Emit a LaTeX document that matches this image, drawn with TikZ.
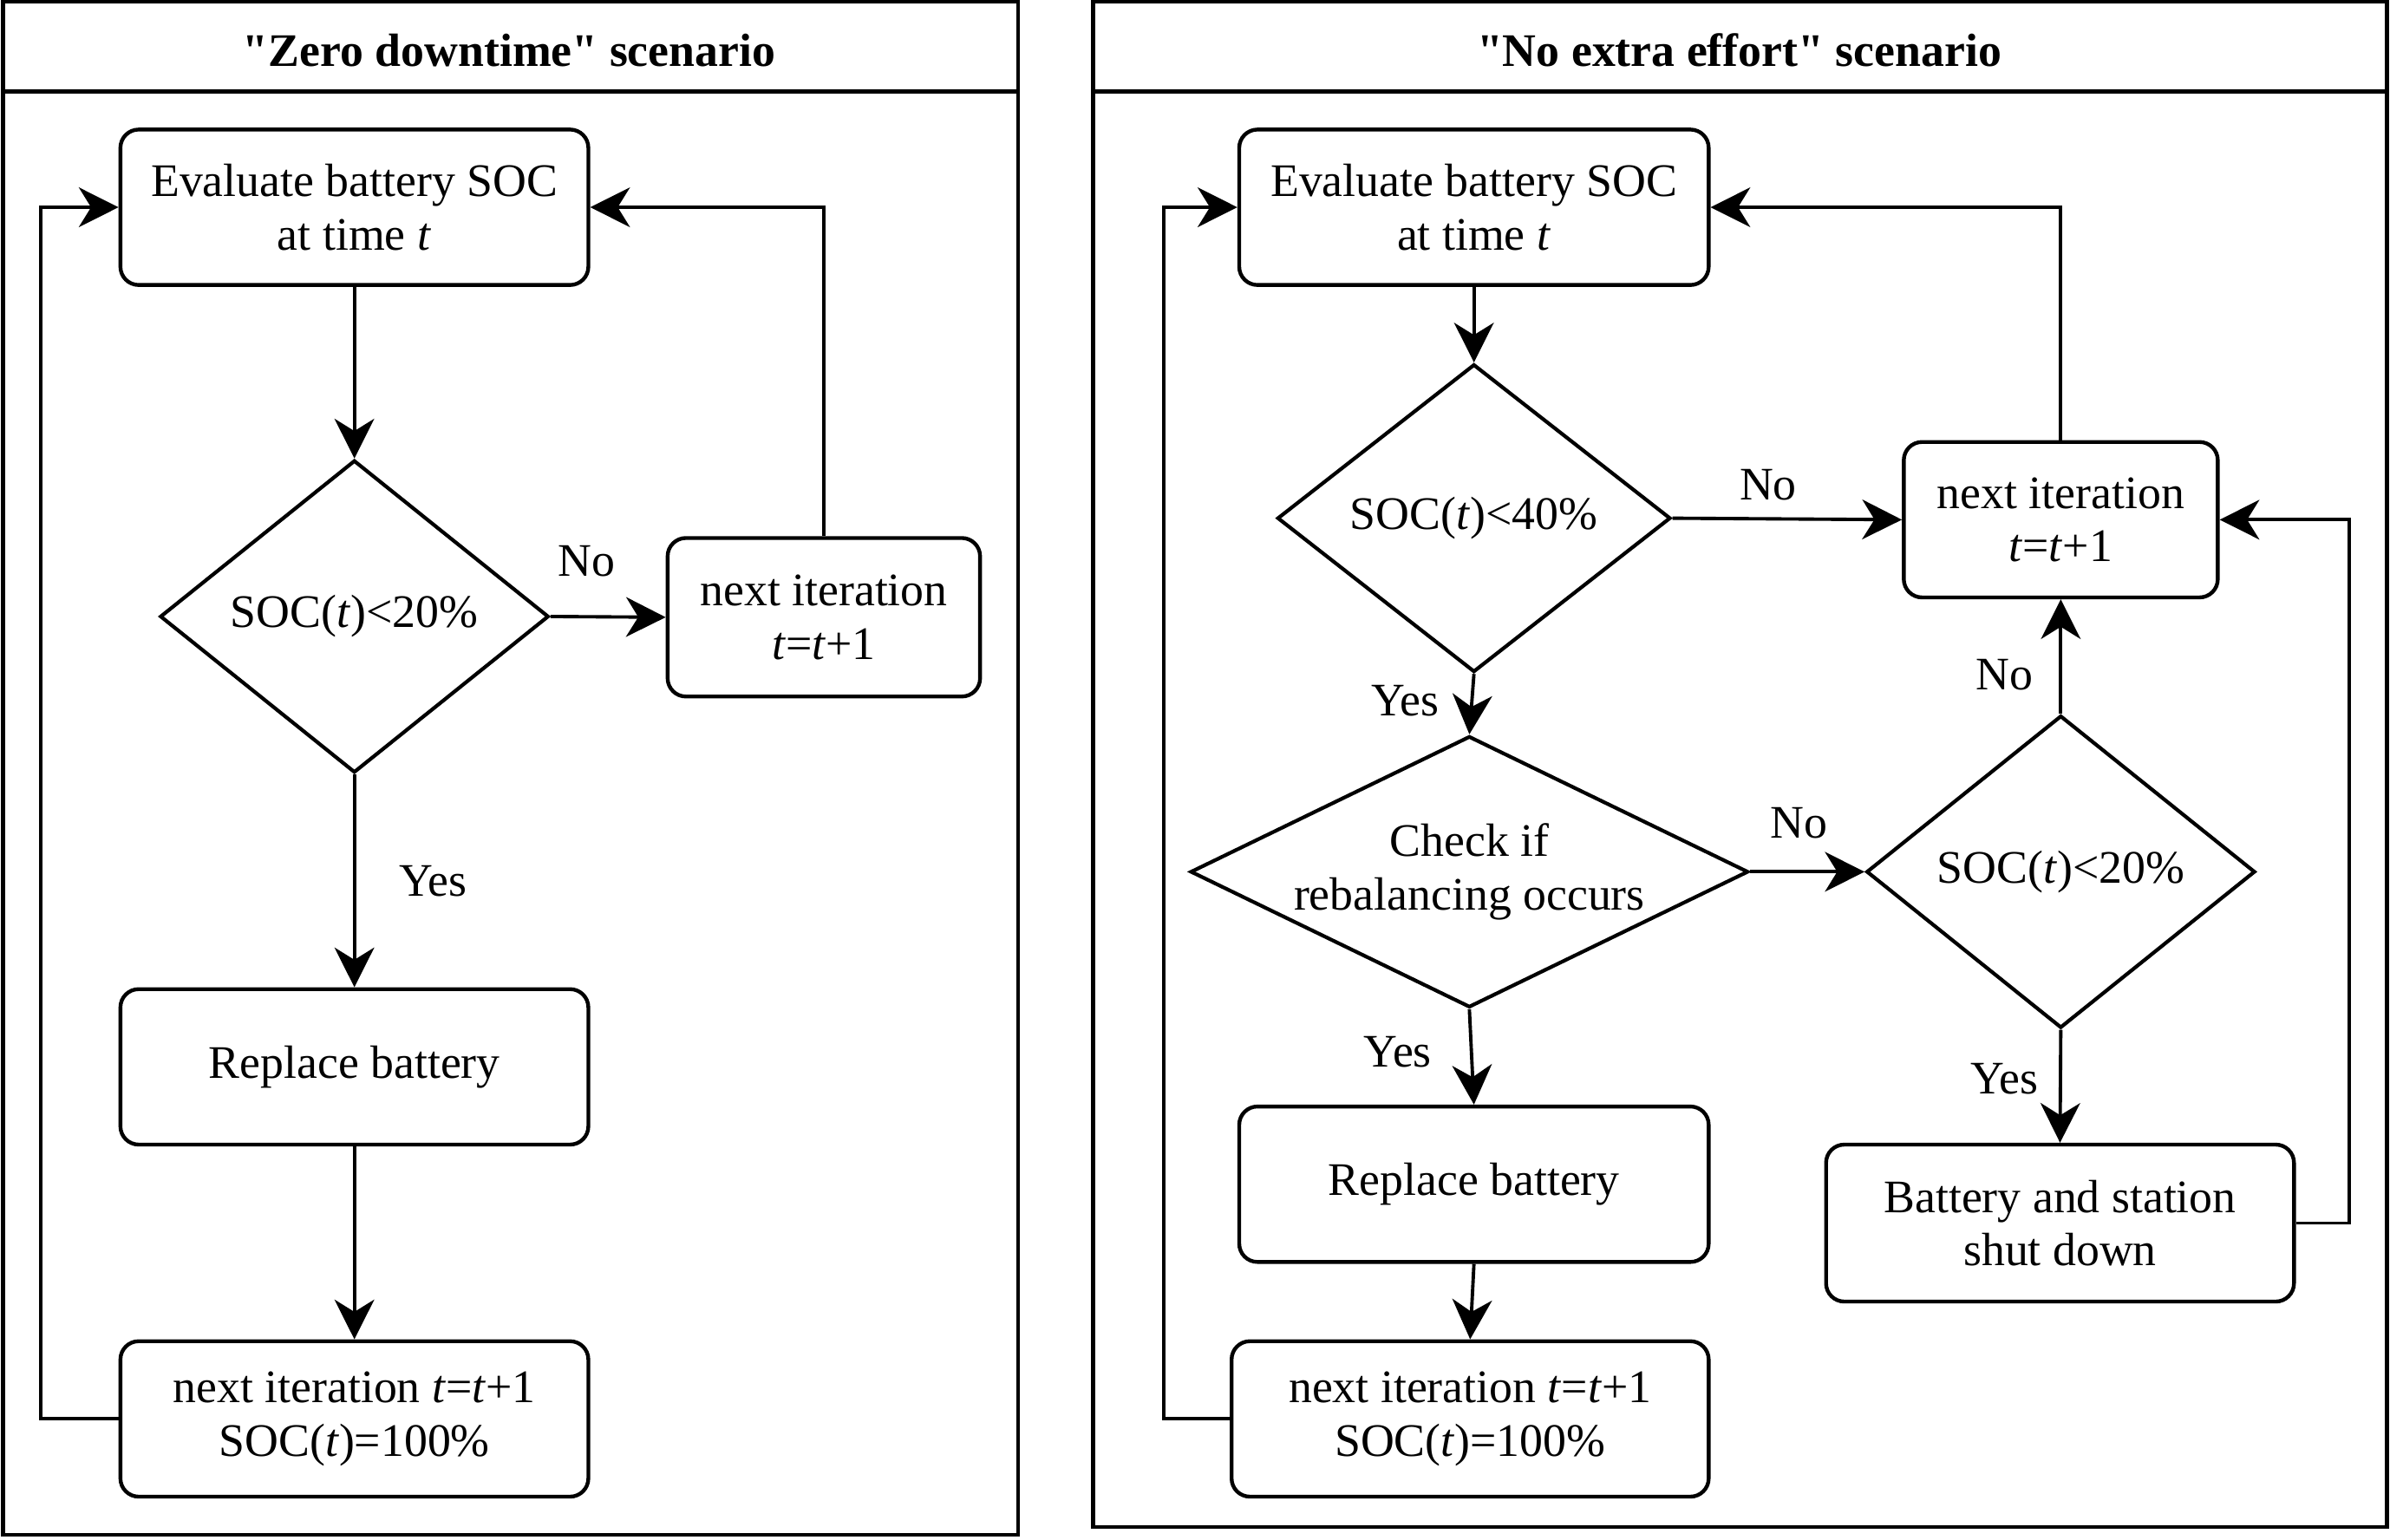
\documentclass[tikz,border=0pt]{standalone}
\usepackage{fontspec}
\setmainfont{Liberation Serif}[Ligatures=TeXOff]
\usetikzlibrary{shapes.geometric,arrows.meta}
\newcommand\figfont{\fontsize{15.3pt}{17.5pt}\selectfont}
\tikzset{
  panel/.style={draw, line width=1.3pt},
  rbox/.style={draw, line width=1.25pt, rounded corners=6pt, minimum width=#1, minimum height=51pt, inner sep=0pt, align=center, font=\figfont},
  rbox/.default=153.5pt,
  dia/.style={draw, line width=1.2pt, diamond, inner sep=0pt},
  txt/.style={align=center, font=\figfont, inner sep=0pt},
  ttl/.style={font=\figfont\bfseries, inner sep=0pt},
  conn/.style={draw, line width=1.1pt, -{Stealth[length=13pt,width=13pt,inset=4pt]}},
}
\begin{document}
\begin{tikzpicture}[x=0.5pt,y=-0.5pt]
\useasboundingbox (0,0) rectangle (1568,1010);
\fill[white] (0,0) rectangle (1568,1010);
% panels
\draw[panel] (2,1) rectangle (668,1007);
\draw[panel] (2,60) -- (668,60);
\node[ttl] (tl) at (334,33) {"Zero downtime" scenario};
\draw[panel] (717,1) rectangle (1566,1002);
\draw[panel] (717,60) -- (1566,60);
\node[ttl] (tr) at (1141,33) {"No extra effort" scenario};

% left flow
\node[rbox] (l1) at (232.5,136) {Evaluate battery SOC\\at time \textit{t}};
\node[dia, minimum width=127.5pt, minimum height=102.5pt] (l2) at (232.5,404.5) {};
\node[txt] (l2t) at (l2.center) {SOC(\textit{t})<20\%};
\node[rbox=102.5pt, minimum height=52pt] (l3) at (540.5,405) {next iteration\\\textit{t}=\textit{t}+1};
\node[rbox] (l4) at (232.5,700) {Replace battery};
\node[rbox] (l5) at (232.5,931) {next iteration \textit{t}=\textit{t}+1\\SOC(\textit{t})=100\%};

\draw[conn] (l1.south) -- (l2.north);
\draw[conn] (l2.east) -- (l3.west);
\node[txt] (ln1) at (385,368) {No};
\draw[conn] (l2.south) -- (l4.north);
\node[txt] (ly1) at (284,578) {Yes};
\draw[conn] (l4.south) -- (l5.north);
\draw[conn] (l5.west) -- ++(-51,0) |- (l1.west);
\draw[conn] (l3.north) |- (l1.east);

% right flow
\node[rbox=154pt] (r1) at (967,136) {Evaluate battery SOC\\at time \textit{t}};
\node[dia, minimum width=129pt, minimum height=101pt] (r2) at (967,340) {};
\node[txt] (r2t) at (r2.center) {SOC(\textit{t})<40\%};
\node[rbox=103pt] (r3) at (1352,341) {next iteration\\\textit{t}=\textit{t}+1};
\node[dia, minimum width=183pt, minimum height=89pt] (r4) at (964,572) {};
\node[txt] (r4t) at (r4.center) {Check if\\rebalancing occurs};
\node[dia, minimum width=127.5pt, minimum height=102.5pt] (r5) at (1352,572) {};
\node[txt] (r5t) at (r5.center) {SOC(\textit{t})<20\%};
\node[rbox=154pt] (r6) at (967,777) {Replace battery};
\node[rbox=153.5pt, minimum height=51.5pt] (r7) at (1351.5,802.5) {Battery and station\\shut down};
\node[rbox=156.5pt] (r8) at (964.5,931) {next iteration \textit{t}=\textit{t}+1\\SOC(\textit{t})=100\%};

\draw[conn] (r1.south) -- (r2.north);
\draw[conn] (r2.east) -- (r3.west);
\node[txt] (rn1) at (1160,318) {No};
\draw[conn] (r2.south) -- (r4.north);
\node[txt] (ry1) at (922,460) {Yes};
\draw[conn] (r4.east) -- (r5.west);
\node[txt] (rn2) at (1180,540) {No};
\draw[conn] (r5.north) -- (r3.south);
\node[txt] (rn3) at (1315,443) {No};
\draw[conn] (r5.south) -- (r7.north);
\node[txt] (ry2) at (1315,708) {Yes};
\draw[conn] (r4.south) -- (r6.north);
\node[txt] (ry3) at (917,690) {Yes};
\draw[conn] (r6.south) -- (r8.north);
\draw[conn] (r8.west) -- ++(-43,0) |- (r1.west);
\draw[conn] (r3.north) |- (r1.east);
\draw[conn] (r7.east) -- ++(35,0) |- (r3.east);
\end{tikzpicture}
\end{document}
